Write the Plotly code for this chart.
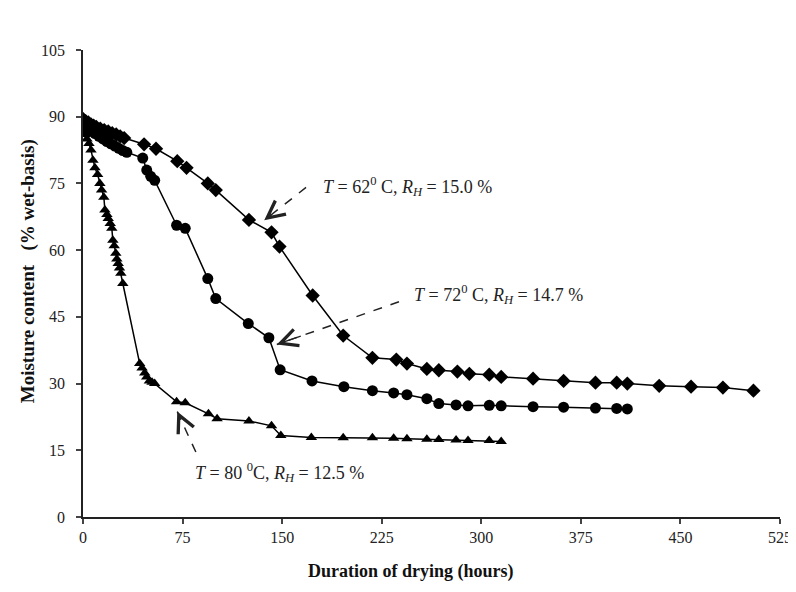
import plotly.graph_objects as go

# 62 C, RH 15.0 % (diamonds)
h62 = [0, 2, 4, 6, 8, 10, 13, 16, 19, 22, 25, 28, 31, 46, 55, 71, 78, 94, 100, 125, 142, 148,
       173, 196, 218, 236, 244, 259, 268, 282, 291, 306, 315, 339, 362, 386, 402, 410, 434, 458, 482, 505]
m62 = [89.5, 89, 88.7, 88.3, 88, 87.7, 87.3, 87, 86.7, 86.3, 86, 85.6, 85.2, 83.8, 82.8, 80, 78.5, 75, 73.5,
       66.8, 64, 60.8, 49.8, 40.8, 35.8, 35.4, 34.5, 33.3, 33.0, 32.7, 32.2, 32, 31.5, 31.1, 30.6, 30.2,
       30.2, 30, 29.5, 29.3, 29.1, 28.4]

# 72 C, RH 14.7 % (circles)
h72 = [0, 3, 6, 9, 12, 15, 18, 21, 24, 27, 30, 33, 45, 48, 51, 54, 70.5, 77, 94, 100, 124.5, 140, 148.5,
       172.5, 196.5, 218, 234, 244, 259, 268, 281, 290, 306, 315, 339, 362, 386, 402, 410]
m72 = [88, 87.5, 86.8, 86.2, 85.6, 85, 84.4, 83.9, 83.4, 82.9, 82.4, 82, 80.7, 78, 76.6, 75.7, 65.6, 64.9,
       53.6, 49.1, 43.5, 40.3, 33.1, 30.6, 29.3, 28.4, 27.9, 27.5, 26.6, 25.5, 25.2, 25.0, 25.1, 25.0,
       24.8, 24.7, 24.5, 24.4, 24.3]

# 80 C, RH 12.5 % (triangles)
h80 = [0, 1.5, 3, 4.5, 6, 7.5, 9, 11, 12.7, 14, 15.7, 16.5, 18, 19, 20.5, 21.7, 22.5, 23.5, 24.7, 25.5,
       26.5, 27.5, 28.5, 30, 42.7, 44.5, 46.5, 48, 50, 52, 54, 70.5, 77, 94.5, 101, 125, 142, 149,
       172, 196, 218, 234, 244, 259, 268, 281, 290, 306, 315]
m80 = [87, 86, 85, 84, 82.5, 80.2, 78.5, 77, 75, 73.5, 71.9, 69, 68, 67.1, 66, 64.9, 62.2, 61, 59.3, 58,
       57, 56, 54.8, 52.5, 34.5, 33.5, 32.4, 31.5, 30.6, 30.3, 30, 25.9, 25.7, 23.2, 22.1, 21.6, 20.5,
       18.3, 17.9, 17.8, 17.8, 17.7, 17.6, 17.5, 17.4, 17.3, 17.2, 17.2, 17.0]

x_ticks = [0, 75, 150, 225, 300, 375, 450, 525]
y_ticks = [0, 15, 30, 45, 60, 75, 90, 105]

x_title = "<b>Duration of drying (hours)</b>"
y_title = "<b>Moisture content\u00a0\u00a0\u00a0(% wet-basis)</b>"

labels = [
    "<i>T</i> = 62<sup>0</sup> C, <i>R<sub>H</sub></i> = 15.0 %",
    "<i>T</i> = 72<sup>0</sup> C, <i>R<sub>H</sub></i> = 14.7 %",
    "<i>T</i> = 80 <sup>0</sup>C, <i>R<sub>H</sub></i> = 12.5 %",
]
label_pos = [(179, 74.4), (247.5, 50.0), (82.5, 9.9)]
arrow_tail = [(168, 74.1), (238, 48.4), (85, 14.6)]
arrow_head = [(136.5, 66.7), (146, 38.8), (71, 23.7)]

serif = "Liberation Serif"

fig = go.Figure()
for xs, ys, sym, sz in [(h62, m62, "diamond", 11), (h72, m72, "circle", 11), (h80, m80, "triangle-up", 10)]:
    fig.add_trace(go.Scatter(x=xs, y=ys, mode="lines+markers",
                             line=dict(color="black", width=1.5),
                             marker=dict(symbol=sym, size=sz, color="black"),
                             showlegend=False))

for (tx, ty), (hx, hy), (lx, ly), txt in zip(arrow_tail, arrow_head, label_pos, labels):
    fig.add_shape(type="line", x0=tx, y0=ty, x1=hx, y1=hy, xref="x", yref="y",
                  line=dict(color="#222", width=1.5, dash="dash"))
    fx = hx + (tx - hx) * 0.2
    fy = hy + (ty - hy) * 0.2
    fig.add_annotation(x=hx, y=hy, ax=fx, ay=fy, xref="x", yref="y", axref="x", ayref="y",
                       text="", showarrow=True, arrowhead=5, arrowsize=2.6, arrowwidth=1.3,
                       arrowcolor="#222", font=dict(size=1), borderpad=0)
    fig.add_annotation(x=lx, y=ly, xref="x", yref="y", text=txt, showarrow=False,
                       xanchor="left", yanchor="middle",
                       font=dict(family=serif, size=18, color="#222"))

# axis titles
fig.add_annotation(x=0.47, y=-0.116, xref="paper", yref="paper", text=x_title, showarrow=False,
                   xanchor="center", yanchor="middle", font=dict(family=serif, size=18, color="#111"))
fig.add_annotation(x=-0.079, y=0.526, xref="paper", yref="paper", text=y_title, showarrow=False,
                   textangle=-90, xanchor="center", yanchor="middle",
                   font=dict(family=serif, size=19, color="#111"))

# the page body adds an 8px margin, so the figure is sized to fit inside the window
fig.update_layout(
    width=788, height=584,
    margin=dict(l=75, r=16, t=42, b=75),
    plot_bgcolor="white", paper_bgcolor="white",
    font=dict(family=serif, size=16, color="#222"),
    xaxis=dict(range=[0, 525], tickvals=x_ticks, ticks="outside", ticklen=5, tickwidth=1.5,
               showline=True, linecolor="#222", linewidth=1.8, showgrid=False, zeroline=False,
               automargin=False, ticklabelstandoff=0, ticklabeloverflow="allow"),
    yaxis=dict(range=[0, 105], tickvals=y_ticks, ticks="outside", ticklen=5, tickwidth=1.5,
               showline=True, linecolor="#222", linewidth=1.8, showgrid=False, zeroline=False,
               automargin=False, ticklabelstandoff=8),
)

fig.write_html("out.html")
